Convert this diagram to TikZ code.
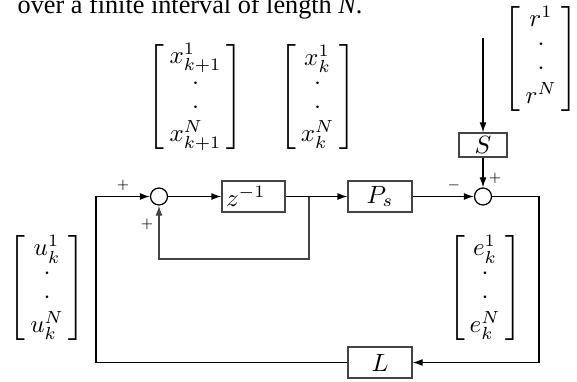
\documentclass[tikz,border=0pt]{standalone}
\usepackage{amsmath}
\usepackage{fontspec}
\usepackage{tikz}
\usetikzlibrary{positioning, arrows.meta, calc}
\newfontfamily\captionfont{Liberation Serif}
\definecolor{blockgrau}{HTML}{444444}
\newcommand{\spalte}[2]{$\left[\vcenter{\hbox{\rule{0pt}{44pt}}}\renewcommand{\arraystretch}{0.8}\begin{array}{@{\hspace{2pt}}c@{\hspace{2pt}}}#1\\ \cdot\\ \cdot\\ #2\end{array}\right]$}

\begin{document}
\begin{tikzpicture}[x=0.4pt, y=-0.4pt, >={Latex[length=4pt, width=2.8pt]}, line width=0.5pt,
    block/.style={draw=blockgrau, minimum height=12.4pt, inner sep=0pt},
    summe/.style={draw, circle, minimum size=6.8pt, inner sep=0pt},
    vorz/.style={font=\fontsize{3.5}{4}\selectfont, inner sep=0pt}]

    \useasboundingbox (0,0) rectangle (577,381);

    % Satz aus dem Fliesstext darueber
    \node[anchor=base west, inner sep=0pt, font=\captionfont\fontsize{10.5}{12}\selectfont] (satz) at (17,13) {over a finite interval of length \textit{N}.};

    % Bloecke
    \node[block, minimum width=25.2pt, text width=22pt, align=left, inner xsep=1.6pt] (delay) at (253.5,196.5) {$z^{-1}$};
    \node[block, minimum width=25.6pt] (plant) at (380,196.5) {$P_s$};
    \node[block, minimum width=19.2pt, minimum height=9.6pt] (filter) at (483,145) {$S$};
    \node[block, minimum width=25.6pt] (learn) at (380,362.5) {$L$};

    % Summationsstellen
    \node[summe] (sum1) at (159,196.5) {};
    \node[summe] (sum2) at (483,196.5) {};

    % Hilfspunkte fuer Knicke und Abzweig
    \coordinate (split) at (309,196.5);
    \coordinate (loop) at (309,259);
    \coordinate (rin) at (483,38);
    \coordinate (ecorner) at (539,362.5);
    \coordinate (ucorner) at (96,362.5);

    % Verbindungen
    \draw[->] (sum1) -- (delay);
    \draw (delay) -- (split);
    \draw[->] (split) -- (plant);
    \draw[->, blockgrau] (split) -- (loop) -| (sum1);
    \draw[->] (plant) -- (sum2);
    \draw[->] (rin) -- (filter);
    \draw[->] (filter) -- (sum2);
    \draw[->] (sum2) -| (ecorner) -- (learn);
    \draw[->] (learn) -- (ucorner) |- (sum1);

    % Vorzeichen an den Summationsstellen
    \node[vorz] (plus1) at (123,185) {$+$};
    \node[vorz] (plus2) at (147,224) {$+$};
    \node[vorz] (minus3) at (454,185) {$-$};
    \node[vorz] (plus4) at (495,178) {$+$};

    % Vektoren
    \node (xnext) at (195.5,97) {\spalte{x^1_{k+1}}{x^N_{k+1}}};
    \node (xcur) at (317.5,97) {\spalte{x^1_k}{x^N_k}};
    \node (rvec) at (541,58.5) {\spalte{r^1}{r^N}};
    \node (uvec) at (47,287.5) {\spalte{u^1_k}{u^N_k}};
    \node (evec) at (485,287.5) {\spalte{e^1_k}{e^N_k}};

\end{tikzpicture}
\end{document}
